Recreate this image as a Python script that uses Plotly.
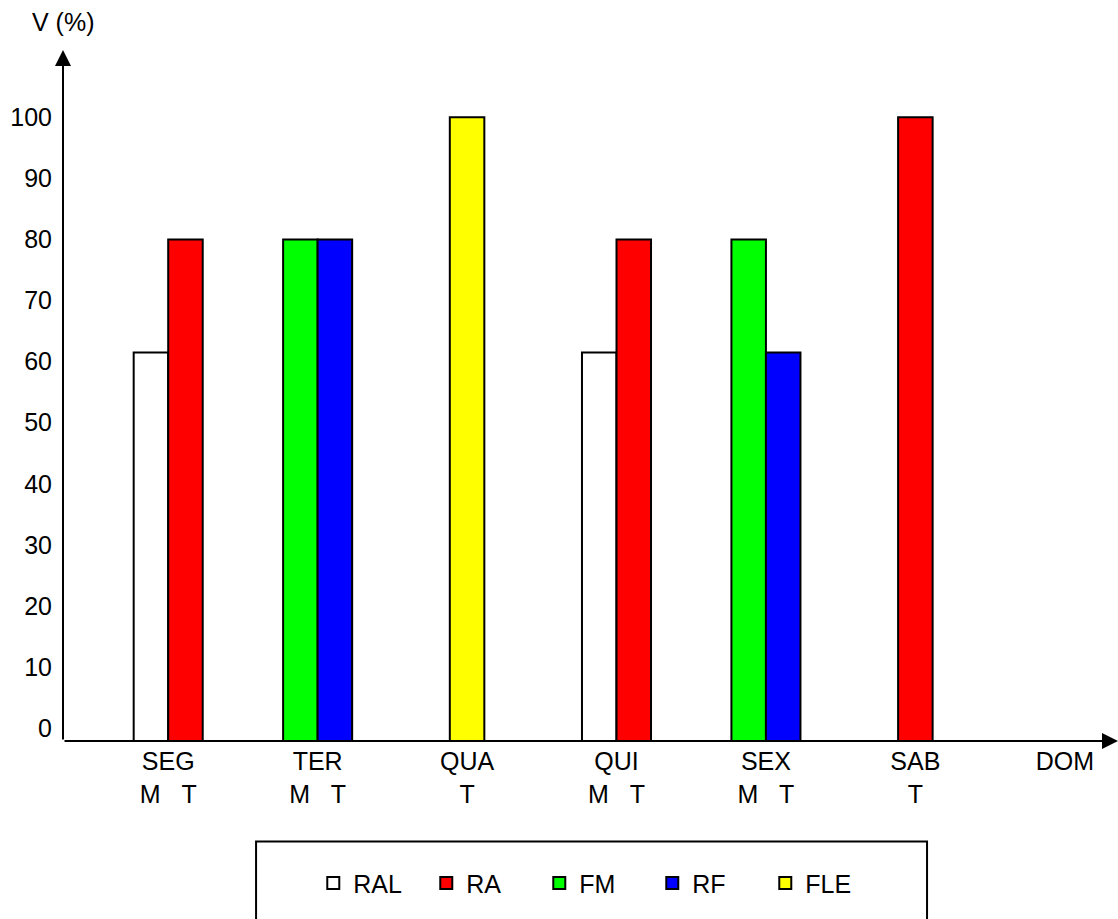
import plotly.graph_objects as go

# Days of the week on the horizontal axis
days = ["SEG", "TER", "QUA", "QUI", "SEX", "SAB", "DOM"]

# One entry per bar: day, session (M = manhã, T = tarde), class and value (%)
bar_day = ["SEG", "SEG", "TER", "TER", "QUA", "QUI", "QUI", "SEX", "SEX", "SAB"]
bar_session = ["M", "T", "M", "T", "T", "M", "T", "M", "T", "T"]
bar_class = ["RAL", "RA", "FM", "RF", "FLE", "RAL", "RA", "FM", "RF", "RA"]
bar_value = [61.5, 80, 80, 80, 100, 61.5, 80, 80, 61.5, 100]

# Legend classes and their fill colours
classes = ["RAL", "RA", "FM", "RF", "FLE"]
class_colors = ["#FFFFFF", "#FF0000", "#00FF00", "#0000FF", "#FFFF00"]

y_ticks = list(range(0, 101, 10))

# Axis geometry (in axis units)
BAR_W = 0.231
X_MIN, X_MAX = -0.704, 6.356
Y_MIN, Y_MAX = -2.1, 111.0

FONT = "Arial, Liberation Sans, sans-serif"
FS = 25

sessions_by_day = {d: [s for dd, s in zip(bar_day, bar_session) if dd == d] for d in days}


def bar_x(day, session):
    i = days.index(day)
    if len(set(sessions_by_day[day])) > 1:
        return i + (-BAR_W / 2 if session == "M" else BAR_W / 2)
    return i


def tick_label(day):
    present = [s for s in ["M", "T"] if s in sessions_by_day[day]]
    if not present:
        return day
    return day + "<br>" + ("\u00a0" * 3).join(present)


fig = go.Figure()
for cls, color in zip(classes, class_colors):
    idx = [k for k, c in enumerate(bar_class) if c == cls]
    vals = [bar_value[k] for k in idx]
    fig.add_trace(go.Bar(
        name=cls,
        x=[bar_x(bar_day[k], bar_session[k]) for k in idx],
        y=[v - Y_MIN for v in vals],
        base=Y_MIN,
        width=BAR_W,
        customdata=[[bar_day[k], bar_session[k], bar_value[k]] for k in idx],
        hovertemplate="%{customdata[0]} %{customdata[1]}<br>" + cls + ": %{customdata[2]}%<extra></extra>",
        marker=dict(color=color, line=dict(color="black", width=2)),
    ))

# Axis arrows
fig.add_annotation(x=X_MAX, y=Y_MIN, ax=X_MIN, ay=Y_MIN, xref="x", yref="y",
                   axref="x", ayref="y", text="", showarrow=True,
                   arrowhead=2, arrowsize=1.6, arrowwidth=2, arrowcolor="black")
fig.add_annotation(x=X_MIN, y=Y_MAX, ax=X_MIN, ay=Y_MIN, xref="x", yref="y",
                   axref="x", ayref="y", text="", showarrow=True,
                   arrowhead=2, arrowsize=1.6, arrowwidth=2, arrowcolor="black")

# Axis title above the vertical arrow
fig.add_annotation(x=0, y=1, xref="paper", yref="paper", xanchor="center",
                   yanchor="middle", yshift=28, text="V (%)", showarrow=False,
                   font=dict(family=FONT, size=FS, color="black"))

# Frame around the legend
fig.add_shape(type="rect", xref="paper", yref="paper",
              x0=0.183, x1=0.819, y0=-0.2654, y1=-0.1453,
              line=dict(color="black", width=2), fillcolor="rgba(0,0,0,0)")

fig.update_layout(
    width=1118, height=919,
    margin=dict(l=63, r=0, t=50, b=177.5),
    paper_bgcolor="white", plot_bgcolor="white",
    barmode="overlay",
    font=dict(family=FONT, size=FS, color="black"),
    showlegend=True,
    legend=dict(orientation="h", x=0.505, xanchor="center", y=-0.206, yanchor="middle",
                entrywidth=68, entrywidthmode="pixels", bgcolor="rgba(0,0,0,0)",
                font=dict(family=FONT, size=FS, color="black"), traceorder="normal"),
    xaxis=dict(range=[X_MIN, X_MAX], tickvals=list(range(len(days))),
               ticktext=[tick_label(d) for d in days], showgrid=False, zeroline=False,
               showline=False, ticks="", ticklabelstandoff=3),
    yaxis=dict(range=[Y_MIN, Y_MAX], tickvals=y_ticks, showgrid=False, zeroline=False,
               showline=False, ticks="", ticklabelstandoff=10),
)

fig.write_html("out.html")
